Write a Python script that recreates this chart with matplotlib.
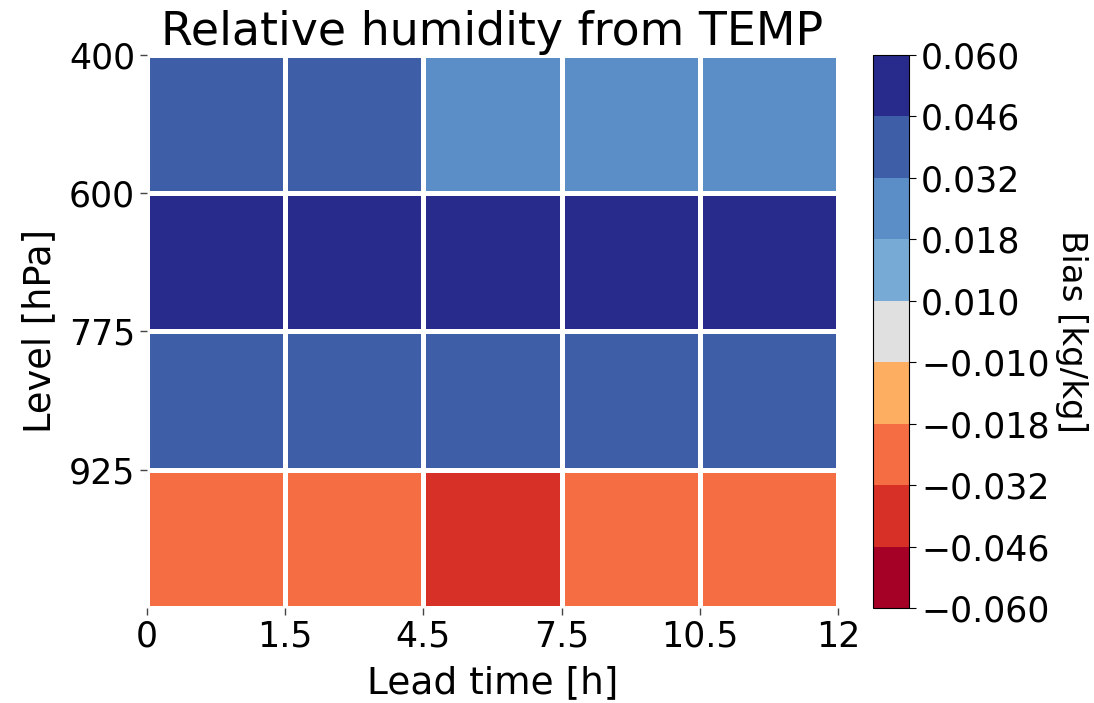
import numpy as np
import matplotlib
matplotlib.use("Agg")
import matplotlib.pyplot as plt
from matplotlib.colors import ListedColormap, BoundaryNorm

levels = ["400", "600", "775", "925"]
lead_labels = ["0", "1.5", "4.5", "7.5", "10.5", "12"]
bias = np.array([
    [0.040, 0.040, 0.025, 0.025, 0.025],
    [0.053, 0.053, 0.053, 0.053, 0.053],
    [0.040, 0.040, 0.040, 0.040, 0.040],
    [-0.025, -0.025, -0.040, -0.025, -0.025],
])
bounds = [-0.060, -0.046, -0.032, -0.018, -0.010, 0.010, 0.018, 0.032, 0.046, 0.060]
colors = ["#a50026", "#d73027", "#f46d43", "#fdae61", "#e0e0e0",
          "#78aad6", "#5b8ec6", "#3e5fa8", "#282b8c"]

cmap = ListedColormap(colors)
norm = BoundaryNorm(bounds, cmap.N)

fig = plt.figure(figsize=(10.94, 7.03), dpi=100)
ax = fig.add_axes([0.1344, 0.1351, 0.6316, 0.7867])
cax = fig.add_axes([0.798, 0.1351, 0.033, 0.7867])

mesh = ax.pcolormesh(np.arange(bias.shape[1] + 1), np.arange(bias.shape[0] + 1), bias,
                     cmap=cmap, norm=norm, edgecolors="white", linewidth=2.4)
ax.set_xlim(0, bias.shape[1])
ax.set_ylim(bias.shape[0], 0)
ax.set_xticks(np.arange(bias.shape[1] + 1))
ax.set_xticklabels(lead_labels)
ax.set_yticks(np.arange(len(levels)))
ax.set_yticklabels(levels)
for s in ax.spines.values():
    s.set_visible(False)
ax.tick_params(labelsize=25, length=5, width=1, color="#444444")
ax.set_xlabel("Lead time [h]", fontsize=27, labelpad=8)
ax.set_ylabel("Level [hPa]", fontsize=26.5, labelpad=8)
ax.set_title("Relative humidity from TEMP", fontsize=33, pad=2)

cb = fig.colorbar(mesh, cax=cax, boundaries=bounds, ticks=bounds, spacing="uniform")
cb.ax.set_yticklabels([f"{b:.3f}".replace("-", "\u2212") for b in bounds])
cb.ax.tick_params(labelsize=25, length=5)
cb.set_label("Bias [kg/kg]", fontsize=24.5, rotation=270, labelpad=28)

fig.savefig("out.png", dpi=100)
